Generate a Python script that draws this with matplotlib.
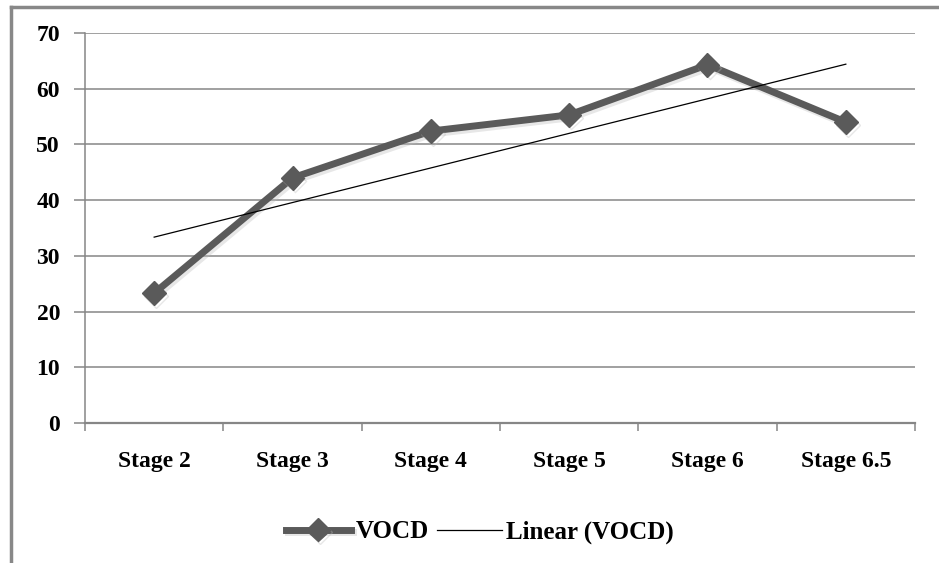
import numpy as np
import matplotlib.pyplot as plt
from matplotlib.lines import Line2D
import matplotlib.patheffects as pe

stages = ["Stage 2", "Stage 3", "Stage 4", "Stage 5", "Stage 6", "Stage 6.5"]
vocd = [23.3, 44.0, 52.4, 55.3, 64.3, 54.0]
yticks = [0, 10, 20, 30, 40, 50, 60, 70]

plt.rcParams['font.family'] = ['Liberation Serif', 'DejaVu Serif']
plt.rcParams['font.weight'] = 'bold'

fig = plt.figure(figsize=(9.39, 5.63), dpi=100)
ax = fig.add_axes([85 / 939, 140 / 563, 830 / 939, 390 / 563])

x = np.arange(len(stages))
# trend line (Excel-style linear fit)
k, b = np.polyfit(x, vocd, 1)
trend = k * x + b

grid_c = '#868686'
for v in yticks[1:]:
    ax.axhline(v, color=grid_c, lw=1.1, zorder=1)

shadow = [pe.SimpleLineShadow(offset=(1.5, -2), shadow_color='#bbbbbb', alpha=0.35), pe.Normal()]
ax.plot(x, vocd, color='#5a5a5a', lw=5, marker='D', ms=12, solid_joinstyle='miter',
        zorder=3, label='VOCD', path_effects=shadow)
ax.plot(x, trend, color='black', lw=0.9, zorder=4, label='Linear (VOCD)')

ax.set_xlim(-0.5, len(stages) - 0.5)
ax.set_ylim(0, 70)
ax.set_yticks(yticks)
ax.set_xticks(x)
ax.set_xticklabels(stages)
ax.set_xticks(np.arange(-0.5, len(stages)), minor=True)
ax.tick_params(axis='x', which='major', length=0, pad=20, labelsize=17)
ax.tick_params(axis='x', which='minor', length=6, color=grid_c, width=1.1)
ax.tick_params(axis='y', length=8, color=grid_c, width=1.1, pad=10, labelsize=17)
for s in ['top', 'right']:
    ax.spines[s].set_visible(False)
for s in ['left', 'bottom']:
    ax.spines[s].set_color(grid_c)
    ax.spines[s].set_linewidth(1.6 if s == 'bottom' else 1.1)

leg = fig.legend(loc='center', bbox_to_anchor=(480 / 939, 1 - 532 / 563), ncol=2,
                 frameon=False, fontsize=18, handlelength=2.6, handletextpad=0.2,
                 columnspacing=0.3)

# outer chart frame (left and top edges visible)
fig.add_artist(Line2D([11 / 939, 11 / 939], [0, 1 - 7 / 563], transform=fig.transFigure,
                      color='#888888', lw=2.5))
fig.add_artist(Line2D([11 / 939, 1], [1 - 7 / 563, 1 - 7 / 563], transform=fig.transFigure,
                      color='#888888', lw=2.5))

fig.savefig('out.png', dpi=100)
